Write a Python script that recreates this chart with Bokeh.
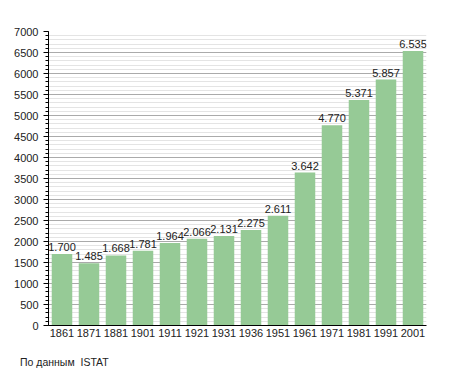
from bokeh.plotting import figure
from bokeh.models import ColumnDataSource, SingleIntervalTicker, FactorRange, Range1d, Div
from bokeh.layouts import column
from bokeh.embed import file_html
from bokeh.resources import INLINE
from bokeh.core.properties import value

years = ["1861", "1871", "1881", "1901", "1911", "1921", "1931", "1936",
         "1951", "1961", "1971", "1981", "1991", "2001"]
population = [1700, 1485, 1668, 1781, 1964, 2066, 2131, 2275,
              2611, 3642, 4770, 5371, 5857, 6535]
labels = [f"{v:,}".replace(",", ".") for v in population]
source_note = "По данным  ISTAT"

FONT = "Liberation Sans"

src = ColumnDataSource(dict(x=years, top=population, lab=labels))

p = figure(x_range=FactorRange(*years, range_padding=0), y_range=Range1d(0, 7000),
           width=440, height=348, output_backend="svg", toolbar_location=None,
           min_border_left=48, min_border_right=14, min_border_top=31, min_border_bottom=23)
p.outline_line_color = None
p.background_fill_color = "white"

p.vbar(x="x", top="top", width=0.76, source=src, fill_color="#96ca96", line_color=None)
p.text(x="x", y="top", text="lab", source=src, text_align="center", text_baseline="bottom",
       y_offset=-3, text_font=value(FONT), text_font_size="11px", text_color="#222222")

p.yaxis.ticker = SingleIntervalTicker(interval=500, num_minor_ticks=5)
p.ygrid.ticker = p.yaxis.ticker
p.ygrid.grid_line_color = "#aaaaaa"
p.ygrid.minor_grid_line_color = "#e4e4e4"
p.xgrid.grid_line_color = None

for ax in (p.xaxis, p.yaxis):
    ax.axis_line_color = "black"
    ax.major_label_text_font = FONT
    ax.major_label_text_font_size = "11px"
    ax.major_label_text_color = "#222222"

p.yaxis.major_tick_out = 5
p.yaxis.major_tick_in = 0
p.yaxis.minor_tick_out = 3
p.yaxis.minor_tick_in = 0
p.yaxis.major_tick_line_color = "black"
p.yaxis.minor_tick_line_color = "black"
p.yaxis.major_label_standoff = 5

p.xaxis.major_tick_line_color = None
p.xaxis.minor_tick_line_color = None
p.xaxis.major_tick_out = 0
p.xaxis.major_label_standoff = 3

note = Div(text=source_note.replace("  ", "&nbsp; "), width=200, height=20, margin=(0, 0, 0, 20),
           styles={"font-family": FONT, "font-size": "10.5px", "color": "#222222",
                   "padding-top": "9px", "line-height": "10px"})

layout = column(p, note, spacing=0)
open("out.html", "w").write(file_html(layout, INLINE))
